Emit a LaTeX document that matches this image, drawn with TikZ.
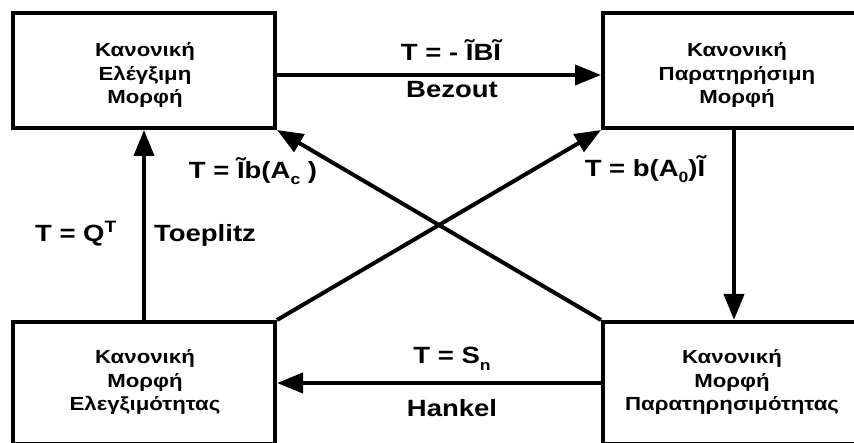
\documentclass[tikz,border=0pt]{standalone}
\usepackage{fontspec}
\setmainfont{Liberation Sans}[FakeStretch=1.17]
\usetikzlibrary{arrows.meta}
\newcommand{\lowsub}[1]{\raisebox{-6pt}{\fontsize{15}{15}\selectfont #1}}
\begin{document}
\begin{tikzpicture}[x=1pt,y=-1pt,
  box/.style={draw,line width=4pt,minimum width=262pt,inner sep=0pt},
  boxtext/.style={align=center,font=\bfseries\fontsize{19}{23.5}\selectfont,inner sep=0pt},
  lbl/.style={font=\bfseries\fontsize{23.5}{27}\selectfont,inner sep=0pt},
  arr/.style={line width=4pt,-{Triangle[length=26pt,width=20pt]}}]
\useasboundingbox (0,0) rectangle (854,443);
\clip (0,0) rectangle (854,443);
\node[box,minimum height=115pt] (TL) at (144,70.5) {};
\node[box,minimum height=115pt] (TR) at (734,70.5) {};
\node[box,minimum height=122pt] (BL) at (144,383) {};
\node[box,minimum height=122pt] (BR) at (734,383) {};
\node[boxtext] (tlt) at (145,75) {Κανονική\\Ελέγξιμη\\Μορφή};
\node[boxtext] (trt) at (737,75) {Κανονική\\Παρατηρήσιμη\\Μορφή};
\node[boxtext] (blt) at (145,382) {Κανονική\\Μορφή\\Ελεγξιμότητας};
\node[boxtext] (brt) at (732,382) {Κανονική\\Μορφή\\Παρατηρησιμότητας};
\draw[arr] ([yshift=-4.5pt]TL.east) -- ([yshift=-4.5pt]TR.west);
\draw[arr] (TR.south) -- (BR.north);
\draw[arr] (BR.west) -- (BL.east);
\draw[arr] (BL.north) -- (TL.south);
\draw[arr] (BL.north east) -- (TR.south west);
\draw[arr] (BR.north west) -- (TL.south east);
\node[lbl] (l1) at (451,50) {T = - ĨBĨ};
\node[lbl] (l2) at (452,90) {Bezout};
\node[lbl,anchor=base] (l3) at (452,364) {T = S\lowsub{n}};
\node[lbl] (l4) at (452,408) {Hankel};
\node[lbl] (l5) at (76,234) {T = Q\textsuperscript{T}};
\node[lbl] (l6) at (205,235) {Toeplitz};
\node[lbl,anchor=base] (l7) at (253,179) {T = Ĩb(A\lowsub{c} )};
\node[lbl,anchor=base] (l8) at (645,177) {T = b(A\lowsub{0})Ĩ};
\end{tikzpicture}
\end{document}
